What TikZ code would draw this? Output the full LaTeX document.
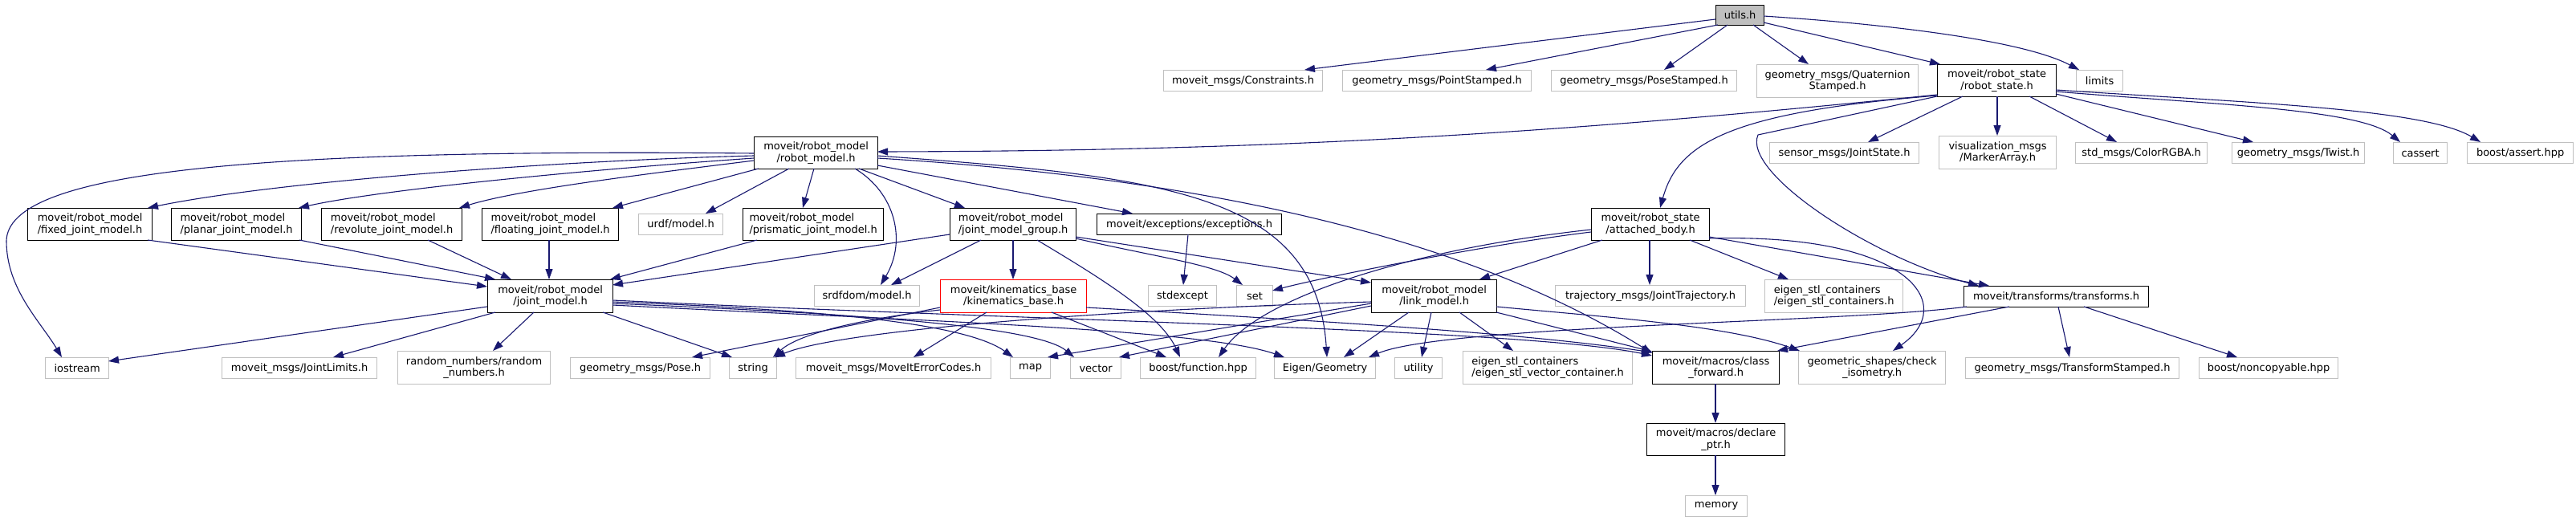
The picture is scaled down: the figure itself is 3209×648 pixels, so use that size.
\documentclass[tikz,border=0pt]{standalone}
\usepackage{fontspec}
\setmainfont{DejaVu Sans}
\usetikzlibrary{arrows.meta}
\definecolor{edgeblue}{HTML}{191970}
\definecolor{lgray}{HTML}{C0C0C0}
\definecolor{ugray}{HTML}{BFBFBF}
\begin{document}
\begin{tikzpicture}[x=1pt,y=-1pt,
  box/.style={draw=black, line width=1.2pt, fill=white, inner sep=0pt, align=center, anchor=north west, font=\fontsize{13}{14.5}\selectfont},
  gb/.style={box, draw=lgray},
  lft/.style={align=left},
  e/.style={draw=edgeblue, line width=1.1pt, -{Triangle[length=13pt,width=9pt]}},
]
\fill[white] (0,0) rectangle (3209,648);
\useasboundingbox (0,0) rectangle (3209,648);

% row 0
\node[box, fill=ugray, minimum width=60pt, minimum height=25pt] (utils) at (2137,6) {utils.h};
% row 1
\node[gb, minimum width=198pt, minimum height=26pt] (constraints) at (1449,87) {moveit\_msgs/Constraints.h};
\node[gb, minimum width=235pt, minimum height=26pt] (pointst) at (1672,87) {geometry\_msgs/PointStamped.h};
\node[gb, minimum width=231pt, minimum height=26pt] (posest) at (1932,87) {geometry\_msgs/PoseStamped.h};
\node[gb, minimum width=201pt, minimum height=41pt] (quat) at (2188,80) {geometry\_msgs/Quaternion\\Stamped.h};
\node[box, minimum width=148pt, minimum height=40pt] (rstate) at (2413,80) {moveit/robot\_state\\/robot\_state.h};
\node[gb, minimum width=58pt, minimum height=26pt] (limits) at (2586,87) {limits};
% row 2
\node[box, minimum width=154pt, minimum height=40pt] (rmodel) at (939,170) {moveit/robot\_model\\/robot\_model.h};
\node[gb, minimum width=186pt, minimum height=26pt] (jstate) at (2204,177) {sensor\_msgs/JointState.h};
\node[gb, minimum width=146pt, minimum height=41pt] (marker) at (2415,169) {visualization\_msgs\\/MarkerArray.h};
\node[gb, minimum width=164pt, minimum height=26pt] (color) at (2585,177) {std\_msgs/ColorRGBA.h};
\node[gb, minimum width=165pt, minimum height=26pt] (twist) at (2780,177) {geometry\_msgs/Twist.h};
\node[gb, minimum width=67pt, minimum height=26pt] (cassert) at (2981,177) {cassert};
\node[gb, minimum width=132pt, minimum height=26pt] (bassert) at (3073,177) {boost/assert.hpp};
% row 3
\node[box, lft, minimum width=155pt, minimum height=40pt] (fixed) at (34,259) {moveit/robot\_model\\/fixed\_joint\_model.h};
\node[box, lft, minimum width=162pt, minimum height=40pt] (planar) at (213,259) {moveit/robot\_model\\/planar\_joint\_model.h};
\node[box, lft, minimum width=175pt, minimum height=40pt] (revolute) at (400,259) {moveit/robot\_model\\/revolute\_joint\_model.h};
\node[box, lft, minimum width=170pt, minimum height=40pt] (floating) at (600,259) {moveit/robot\_model\\/floating\_joint\_model.h};
\node[gb, minimum width=105pt, minimum height=26pt] (urdf) at (795,266) {urdf/model.h};
\node[box, lft, minimum width=175pt, minimum height=40pt] (prismatic) at (925,259) {moveit/robot\_model\\/prismatic\_joint\_model.h};
\node[box, lft, minimum width=157pt, minimum height=40pt] (jmg) at (1183,259) {moveit/robot\_model\\/joint\_model\_group.h};
\node[box, minimum width=230pt, minimum height=26pt] (except) at (1366,266) {moveit/exceptions/exceptions.h};
\node[box, minimum width=147pt, minimum height=40pt] (attached) at (1982,259) {moveit/robot\_state\\/attached\_body.h};
% row 4
\node[box, minimum width=156pt, minimum height=41pt] (jmodel) at (607,348) {moveit/robot\_model\\/joint\_model.h};
\node[gb, minimum width=131pt, minimum height=26pt] (srdf) at (1014,355) {srdfdom/model.h};
\node[box, draw=red, minimum width=182pt, minimum height=41pt] (kin) at (1171,348) {moveit/kinematics\_base\\/kinematics\_base.h};
\node[gb, minimum width=85pt, minimum height=26pt] (stdexc) at (1430,355) {stdexcept};
\node[gb, minimum width=45pt, minimum height=26pt] (set) at (1540,355) {set};
\node[box, minimum width=156pt, minimum height=41pt] (lmodel) at (1708,348) {moveit/robot\_model\\/link\_model.h};
\node[gb, minimum width=237pt, minimum height=26pt] (traj) at (1937,355) {trajectory\_msgs/JointTrajectory.h};
\node[gb, lft, minimum width=172pt, minimum height=41pt] (econt) at (2198,348) {eigen\_stl\_containers\\/eigen\_stl\_containers.h};
\node[box, minimum width=230pt, minimum height=26pt] (transf) at (2446,356) {moveit/transforms/transforms.h};
% row 5
\node[gb, minimum width=79pt, minimum height=26pt] (iostream) at (56,445) {iostream};
\node[gb, minimum width=193pt, minimum height=26pt] (jlimits) at (276,445) {moveit\_msgs/JointLimits.h};
\node[gb, minimum width=190pt, minimum height=41pt] (random) at (495,437) {random\_numbers/random\\\_numbers.h};
\node[gb, minimum width=174pt, minimum height=26pt] (pose) at (710,445) {geometry\_msgs/Pose.h};
\node[gb, minimum width=59pt, minimum height=26pt] (string) at (908,445) {string};
\node[gb, minimum width=243pt, minimum height=26pt] (errcodes) at (991,445) {moveit\_msgs/MoveItErrorCodes.h};
\node[gb, minimum width=50pt, minimum height=26pt] (map) at (1258,445) {map};
\node[gb, minimum width=63pt, minimum height=26pt] (vector) at (1333,445) {vector};
\node[gb, minimum width=144pt, minimum height=26pt] (function) at (1420,445) {boost/function.hpp};
\node[gb, minimum width=126pt, minimum height=26pt] (egeom) at (1587,445) {Eigen/Geometry};
\node[gb, minimum width=59pt, minimum height=26pt] (utility) at (1737,445) {utility};
\node[gb, lft, minimum width=211pt, minimum height=41pt] (evec) at (1822,437) {eigen\_stl\_containers\\/eigen\_stl\_vector\_container.h};
\node[box, minimum width=158pt, minimum height=41pt] (cfwd) at (2058,437) {moveit/macros/class\\\_forward.h};
\node[gb, minimum width=183pt, minimum height=41pt] (checkiso) at (2240,437) {geometric\_shapes/check\\\_isometry.h};
\node[gb, minimum width=266pt, minimum height=26pt] (tstamped) at (2448,445) {geometry\_msgs/TransformStamped.h};
\node[gb, minimum width=173pt, minimum height=26pt] (noncopy) at (2739,445) {boost/noncopyable.hpp};
% rows 6-7
\node[box, minimum width=172pt, minimum height=40pt] (declare) at (2051,527) {moveit/macros/declare\\\_ptr.h};
\node[gb, minimum width=77pt, minimum height=26pt] (memory) at (2099,617) {memory};

% utils.h
\draw[e] ([shift={(0,18)}]utils.north west) -- ([shift={(176,0)}]constraints.north west);
\draw[e] ([shift={(3,25)}]utils.north west) -- ([shift={(179,0)}]pointst.north west);
\draw[e] ([shift={(15,25)}]utils.north west) -- ([shift={(141,0)}]posest.north west);
\draw[e] ([shift={(47,25)}]utils.north west) -- ([shift={(65,0)}]quat.north west);
\draw[e] ([shift={(60,22)}]utils.north west) -- ([shift={(4,0)}]rstate.north west);
\draw[e] ([shift={(60,14)}]utils.north west) .. controls (2350,30) and (2520,50) .. ([shift={(4,0)}]limits.north west);

% robot_state.h
\draw[e] ([shift={(0,38)}]rstate.north west) .. controls (1950,165) and (1600,188) .. ([shift={(154,19)}]rmodel.north west);
\draw[e] ([shift={(1,39)}]rstate.north west) .. controls (2150,140) and (2090,180) .. ([shift={(86,0)}]attached.north west);
\draw[e] ([shift={(0,40)}]rstate.north west) -- (2190,168) .. controls (2170,215) and (2330,320) .. ([shift={(19,0)}]transf.north west);
\draw[e] ([shift={(32,40)}]rstate.north west) -- ([shift={(123,0)}]jstate.north west);
\draw[e] ([shift={(75,40)}]rstate.north west) -- ([shift={(73,0)}]marker.north west);
\draw[e] ([shift={(115,40)}]rstate.north west) -- ([shift={(52,0)}]color.north west);
\draw[e] ([shift={(148,37)}]rstate.north west) -- ([shift={(27,0)}]twist.north west);
\draw[e] ([shift={(148,34)}]rstate.north west) .. controls (2750,130) and (2940,135) .. ([shift={(9,0)}]cassert.north west);
\draw[e] ([shift={(148,32)}]rstate.north west) .. controls (2800,128) and (3020,135) .. ([shift={(17,0)}]bassert.north west);

% attached_body.h
\draw[e] ([shift={(147,38)}]attached.north west) .. controls (2380,290) and (2440,380) .. ([shift={(118,0)}]checkiso.north west);
\draw[e] ([shift={(147,36)}]attached.north west) -- ([shift={(32,0)}]transf.north west);
\draw[e] ([shift={(73,40)}]attached.north west) -- ([shift={(118,0)}]traj.north west);
\draw[e] ([shift={(123,40)}]attached.north west) -- ([shift={(30,0)}]econt.north west);
\draw[e] ([shift={(14,40)}]attached.north west) -- ([shift={(135,0)}]lmodel.north west);
\draw[e] ([shift={(0,30)}]attached.north west) .. controls (1850,305) and (1650,345) .. ([shift={(45,7)}]set.north west);
\draw[e] ([shift={(0,27)}]attached.north west) .. controls (1760,310) and (1570,370) .. ([shift={(98,0)}]function.north west);

% robot_model.h
\draw[e] ([shift={(0,21)}]rmodel.north west) .. controls (300,185) and (10,215) .. (8,300) .. controls (8,360) and (50,400) .. ([shift={(21,0)}]iostream.north west);
\draw[e] ([shift={(0,24)}]rmodel.north west) .. controls (700,200) and (350,225) .. ([shift={(150,0)}]fixed.north west);
\draw[e] ([shift={(0,27)}]rmodel.north west) .. controls (750,210) and (480,235) .. ([shift={(159,0)}]planar.north west);
\draw[e] ([shift={(0,30)}]rmodel.north west) .. controls (820,215) and (650,235) .. ([shift={(172,0)}]revolute.north west);
\draw[e] ([shift={(6,40)}]rmodel.north west) -- ([shift={(163,0)}]floating.north west);
\draw[e] ([shift={(44,40)}]rmodel.north west) -- ([shift={(84,0)}]urdf.north west);
\draw[e] ([shift={(75,40)}]rmodel.north west) -- ([shift={(75,0)}]prismatic.north west);
\draw[e] ([shift={(126,40)}]rmodel.north west) .. controls (1115,240) and (1130,300) .. ([shift={(83,0)}]srdf.north west);
\draw[e] ([shift={(131,40)}]rmodel.north west) -- ([shift={(19,0)}]jmg.north west);
\draw[e] ([shift={(154,36)}]rmodel.north west) -- ([shift={(45,0)}]except.north west);
\draw[e] ([shift={(154,24)}]rmodel.north west) .. controls (1450,220) and (1640,240) .. ([shift={(66,0)}]egeom.north west);
\draw[e] ([shift={(154,27)}]rmodel.north west) .. controls (1550,225) and (1850,310) .. ([shift={(0,3)}]cfwd.north west);

% joint_model_group.h
\draw[e] ([shift={(0,33)}]jmg.north west) -- ([shift={(156,7)}]jmodel.north west);
\draw[e] ([shift={(39,40)}]jmg.north west) -- ([shift={(96,0)}]srdf.north west);
\draw[e] ([shift={(79,40)}]jmg.north west) -- ([shift={(91,0)}]kin.north west);
\draw[e] ([shift={(109,40)}]jmg.north west) .. controls (1360,340) and (1445,390) .. ([shift={(50,0)}]function.north west);
\draw[e] ([shift={(157,38)}]jmg.north west) .. controls (1440,320) and (1515,330) .. ([shift={(8,0)}]set.north west);
\draw[e] ([shift={(157,36)}]jmg.north west) -- ([shift={(0,4)}]lmodel.north west);
\draw[e] ([shift={(114,26)}]except.north west) -- ([shift={(44,0)}]stdexc.north west);

% joint models -> joint_model.h
\draw[e] ([shift={(150,40)}]fixed.north west) -- ([shift={(0,9)}]jmodel.north west);
\draw[e] ([shift={(160,40)}]planar.north west) -- ([shift={(10,0)}]jmodel.north west);
\draw[e] ([shift={(133,40)}]revolute.north west) -- ([shift={(30,0)}]jmodel.north west);
\draw[e] ([shift={(84,40)}]floating.north west) -- ([shift={(77,0)}]jmodel.north west);
\draw[e] ([shift={(18,40)}]prismatic.north west) -- ([shift={(153,0)}]jmodel.north west);

% joint_model.h
\draw[e] ([shift={(0,34)}]jmodel.north west) -- ([shift={(79,5)}]iostream.north west);
\draw[e] ([shift={(10,41)}]jmodel.north west) -- ([shift={(139,0)}]jlimits.north west);
\draw[e] ([shift={(58,41)}]jmodel.north west) -- ([shift={(119,0)}]random.north west);
\draw[e] ([shift={(144,41)}]jmodel.north west) -- ([shift={(4,0)}]string.north west);
\draw[e] ([shift={(156,28)}]jmodel.north west) .. controls (1000,385) and (1200,400) .. ([shift={(4,0)}]map.north west);
\draw[e] ([shift={(156,30)}]jmodel.north west) .. controls (1050,390) and (1290,405) .. ([shift={(5,0)}]vector.north west);
\draw[e] ([shift={(156,32)}]jmodel.north west) .. controls (1150,400) and (1500,410) .. ([shift={(13,0)}]egeom.north west);
\draw[e] ([shift={(156,26)}]jmodel.north west) .. controls (1300,400) and (1900,410) .. ([shift={(0,6)}]cfwd.north west);

% kinematics_base.h
\draw[e] ([shift={(58,41)}]kin.north west) -- ([shift={(147,0)}]errcodes.north west);
\draw[e] ([shift={(139,41)}]kin.north west) -- ([shift={(33,0)}]function.north west);
\draw[e] ([shift={(182,35)}]kin.north west) .. controls (1650,400) and (1900,415) .. ([shift={(0,2)}]cfwd.north west);
\draw[e] ([shift={(0,35)}]kin.north west) -- ([shift={(152,0)}]pose.north west);
\draw[e] ([shift={(0,38)}]kin.north west) .. controls (1050,400) and (990,420) .. ([shift={(55,0)}]string.north west);

% link_model.h
\draw[e] ([shift={(47,41)}]lmodel.north west) -- ([shift={(87,0)}]egeom.north west);
\draw[e] ([shift={(75,41)}]lmodel.north west) -- ([shift={(34,0)}]utility.north west);
\draw[e] ([shift={(110,41)}]lmodel.north west) -- ([shift={(63,0)}]evec.north west);
\draw[e] ([shift={(156,41)}]lmodel.north west) -- ([shift={(0,1)}]cfwd.north west);
\draw[e] ([shift={(156,34)}]lmodel.north west) .. controls (2000,395) and (2150,405) .. ([shift={(2,0)}]checkiso.north west);
\draw[e] ([shift={(0,30)}]lmodel.north west) -- ([shift={(47,0)}]map.north west);
\draw[e] ([shift={(0,33)}]lmodel.north west) -- ([shift={(61,0)}]vector.north west);
\draw[e] ([shift={(0,28)}]lmodel.north west) .. controls (1400,385) and (1050,410) .. ([shift={(57,0)}]string.north west);

% transforms.h
\draw[e] ([shift={(4,26)}]transf.north west) .. controls (2300,402) and (1800,405) .. ([shift={(118,0)}]egeom.north west);
\draw[e] ([shift={(57,26)}]transf.north west) -- ([shift={(156,0)}]cfwd.north west);
\draw[e] ([shift={(118,26)}]transf.north west) -- ([shift={(130,0)}]tstamped.north west);
\draw[e] ([shift={(150,26)}]transf.north west) -- ([shift={(48,0)}]noncopy.north west);

% macros
\draw[e] ([shift={(79,41)}]cfwd.north west) -- ([shift={(86,0)}]declare.north west);
\draw[e] ([shift={(86,40)}]declare.north west) -- ([shift={(38,0)}]memory.north west);
\end{tikzpicture}
\end{document}
